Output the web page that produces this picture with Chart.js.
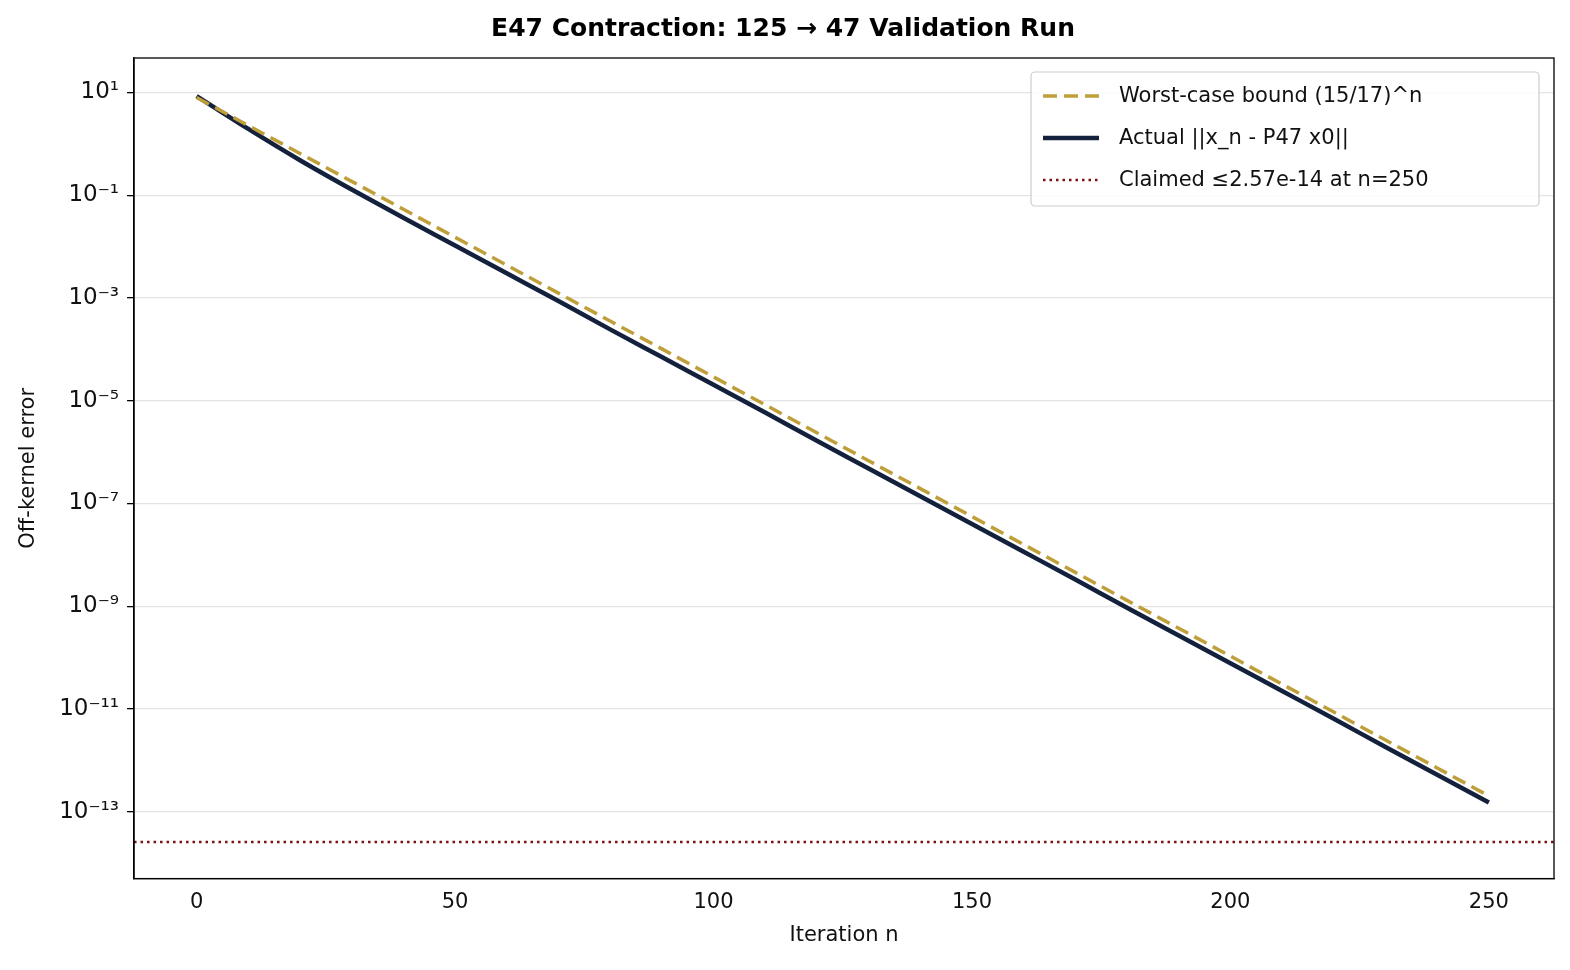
<!DOCTYPE html>
<html><head><meta charset="utf-8">
<script src="https://cdn.jsdelivr.net/npm/chart.js@4/dist/chart.umd.min.js"></script>
<style>html,body{margin:0;padding:0;background:#fff}#w{width:1570px;height:970px}</style>
</head><body><div id="w"><canvas id="c"></canvas></div>
<script>
const iterations=[0,10,20,30,40,50,60,70,80,90,100,110,120,130,140,150,160,170,180,190,200,210,220,230,240,250];
const boundValues=[7.94,2.27,0.650,0.186,0.0532,0.0152,4.35e-3,1.24e-3,3.56e-4,1.02e-4,2.91e-5,8.32e-6,2.38e-6,6.81e-7,1.95e-7,5.57e-8,1.59e-8,4.56e-9,1.30e-9,3.73e-10,1.07e-10,3.05e-11,8.73e-12,2.49e-12,7.14e-13,2.04e-13];
const actualValues=[8.51,1.95,0.48,0.129,0.0363,0.0105,3.02e-3,8.71e-4,2.45e-4,7.08e-5,2.04e-5,5.89e-6,1.66e-6,4.79e-7,1.38e-7,3.98e-8,1.15e-8,3.31e-9,9.33e-10,2.69e-10,7.76e-11,2.24e-11,6.46e-12,1.82e-12,5.25e-13,1.51e-13];
const claimedValue=2.57e-14;
const xRange=[-12.1,262.6];
const yTickExps=[1,-1,-3,-5,-7,-9,-11,-13];
const labels=["Worst-case bound (15/17)^n","Actual ||x_n - P47 x0||","Claimed \u22642.57e-14 at n=250"];
const FONT="'DejaVu Sans', sans-serif";
const sup={'-':'\u207B','0':'\u2070','1':'\u00B9','2':'\u00B2','3':'\u00B3','4':'\u2074','5':'\u2075','6':'\u2076','7':'\u2077','8':'\u2078','9':'\u2079'};
const toSup=s=>String(s).split('').map(c=>sup[c]).join('');
const pts=v=>iterations.map((n,i)=>({x:n,y:v[i]}));
const legendPlugin={id:'lg',afterDraw(ch){
  const c=ch.ctx;const x0=1031,y0=72,w=508,h=134;
  c.save();c.fillStyle='rgba(255,255,255,0.85)';c.strokeStyle='#ccc';c.lineWidth=1.2;
  c.beginPath();c.roundRect(x0,y0,w,h,4);c.fill();c.stroke();
  c.font='21px '+FONT;c.fillStyle='#111';c.textBaseline='middle';
  ch.data.datasets.forEach((d,i)=>{const y=y0+24+i*42;
    c.strokeStyle=d.borderColor;c.lineWidth=d.borderWidth;c.setLineDash(d.borderDash||[]);
    c.beginPath();c.moveTo(x0+12,y);c.lineTo(x0+68,y);c.stroke();c.setLineDash([]);
    c.fillText(d.label,x0+88,y+1);});
  c.restore();}};
const frame={id:'fr',afterDraw(ch){const c=ch.ctx,a=ch.chartArea;c.save();c.strokeStyle='#000';c.lineWidth=1.3;c.strokeRect(a.left,a.top,a.right-a.left,a.bottom-a.top);c.restore();}};
new Chart(document.getElementById('c'),{type:'line',
data:{datasets:[
 {label:labels[0],data:pts(boundValues),borderColor:'#bf9f3a',borderWidth:3.5,borderDash:[14,7],pointRadius:0,fill:false},
 {label:labels[1],data:pts(actualValues),borderColor:'#14213d',borderWidth:4.5,pointRadius:0,fill:false,cubicInterpolationMode:'monotone'},
 {label:labels[2],data:[{x:xRange[0],y:claimedValue},{x:xRange[1],y:claimedValue}],borderColor:'#7a1010',borderWidth:2.5,borderDash:[2.5,4],pointRadius:0,fill:false}
]},
options:{responsive:true,maintainAspectRatio:false,animation:false,
 layout:{padding:{left:12,right:16,top:6,bottom:18}},
 plugins:{legend:{display:false},tooltip:{enabled:false},
  title:{display:true,text:'E47 Contraction: 125 \u2192 47 Validation Run',font:{family:FONT,size:25,weight:'bold'},color:'#000',padding:{top:8,bottom:14}}},
 scales:{
  x:{type:'linear',min:xRange[0],max:xRange[1],grid:{display:false,drawTicks:true,tickLength:7,tickColor:'#000'},border:{color:'#000',width:1.3},
   afterBuildTicks(s){s.ticks=[0,50,100,150,200,250].map(v=>({value:v}));},
   ticks:{font:{family:FONT,size:21},color:'#111',padding:4},
   title:{display:true,text:'Iteration n',font:{family:FONT,size:21},color:'#111',padding:{top:4}}},
  y:{type:'logarithmic',min:Math.pow(10,-14.3),max:Math.pow(10,1.67),
   afterBuildTicks(s){s.ticks=yTickExps.map(e=>({value:Math.pow(10,e)}));},
   grid:{color:'#e4e4e4',lineWidth:1.3,tickColor:'#000',tickLength:7},border:{color:'#000',width:1.3},
   ticks:{font:{family:FONT,size:23},color:'#111',padding:8,callback:v=>'10'+toSup(Math.round(Math.log10(v)))},
   title:{display:true,text:'Off-kernel error',font:{family:FONT,size:21},color:'#111',padding:{bottom:10}}}
 }},
plugins:[legendPlugin,frame]});
</script></body></html>
